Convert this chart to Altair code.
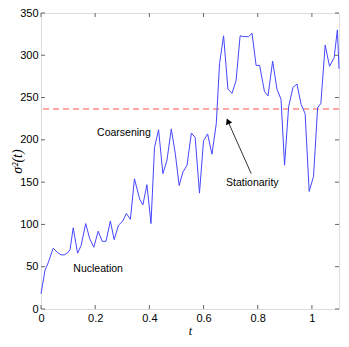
import altair as alt
import pandas as pd

t = [0, 0.015, 0.027, 0.045, 0.06, 0.074, 0.086, 0.097, 0.107, 0.119, 0.135, 0.148, 0.165, 0.18, 0.195,
     0.211, 0.226, 0.24, 0.256, 0.27, 0.286, 0.302, 0.315, 0.33, 0.345, 0.364, 0.376, 0.391, 0.406, 0.419,
     0.434, 0.45, 0.465, 0.481, 0.496, 0.51, 0.524, 0.539, 0.555, 0.569, 0.585, 0.6, 0.615, 0.631, 0.647,
     0.659, 0.674, 0.69, 0.705, 0.72, 0.735, 0.75, 0.766, 0.779, 0.794, 0.807, 0.825, 0.838, 0.855, 0.871,
     0.886, 0.899, 0.914, 0.93, 0.945, 0.96, 0.975, 0.99, 1.006, 1.021, 1.033, 1.049, 1.065, 1.082, 1.094, 1.1]
sigma2 = [18, 46, 55, 72, 67, 64, 64, 66, 70, 96, 66, 75, 101, 83, 73,
          92, 80, 80, 104, 82, 99, 104, 113, 106, 154, 130, 123, 147, 101, 191,
          212, 160, 176, 213, 183, 146, 162, 170, 208, 203, 137, 199, 207, 183, 219,
          290, 323, 260, 255, 270, 323, 322, 322, 326, 288, 288, 257, 252, 293, 260,
          248, 170, 239, 262, 266, 242, 231, 139, 157, 238, 243, 312, 287, 297, 330, 284]

stationary_level = 236.5
x_ticks = [0, 0.2, 0.4, 0.6, 0.8, 1.0]
y_ticks = [0, 50, 100, 150, 200, 250, 300, 350]

labels = ["Coarsening", "Stationarity", "Nucleation"]
label_t = [0.306, 0.78, 0.211]
label_v = [208.6, 149.3, 46.8]

arrow_tail = (0.776, 160.0)
arrow_head_center = (0.690, 222.0)

W, H = 298, 296
FONT = "Liberation Sans"

xs = alt.Scale(domain=[0, 1.1], nice=False, zero=False)
ys = alt.Scale(domain=[0, 350], nice=False)

df = pd.DataFrame({"t": t, "v": sigma2})

line = alt.Chart(df).mark_line(color="#4646ff", strokeWidth=1).encode(
    x=alt.X("t:Q", scale=xs,
            axis=alt.Axis(values=x_ticks, title="t", titleFontStyle="italic", titleFont="Liberation Serif",
                          titleFontWeight="normal", titleFontSize=12, titlePadding=2,
                          labelFont=FONT, labelFontSize=11, labelColor="#000", ticks=False,
                          labelPadding=3, grid=False, domain=False, format="~g", labelFlush=False)),
    y=alt.Y("v:Q", scale=ys,
            axis=alt.Axis(values=y_ticks, title="σ²(t)", titleFont="Liberation Serif",
                          titleFontStyle="italic", titleFontWeight="normal", titleFontSize=14,
                          titleX=-24, titleY=H / 2, titleAngle=270, titleAlign="center",
                          titleBaseline="middle",
                          labelFont=FONT, labelFontSize=11, labelColor="#000",
                          ticks=False, labelPadding=3, grid=False, domain=False)),
)

hline = alt.Chart(pd.DataFrame({"v": [stationary_level]})).mark_rule(
    color="#ff4d4d", strokeWidth=1, strokeDash=[6, 4]
).encode(y=alt.Y("v:Q", scale=ys))

xt = pd.DataFrame({"t": x_ticks})
yt = pd.DataFrame({"v": y_ticks})
tick_color = "#666"
xtick_b = alt.Chart(xt).mark_rule(color=tick_color).encode(
    x=alt.X("t:Q", scale=xs), y=alt.value(H), y2=alt.value(H - 4))
xtick_t = alt.Chart(xt).mark_rule(color=tick_color).encode(
    x=alt.X("t:Q", scale=xs), y=alt.value(0), y2=alt.value(4))
ytick_l = alt.Chart(yt).mark_rule(color=tick_color).encode(
    y=alt.Y("v:Q", scale=ys), x=alt.value(0), x2=alt.value(4))
ytick_r = alt.Chart(yt).mark_rule(color=tick_color).encode(
    y=alt.Y("v:Q", scale=ys), x=alt.value(W), x2=alt.value(W - 4))

texts = alt.Chart(pd.DataFrame({"t": label_t, "v": label_v, "lab": labels})).mark_text(
    font=FONT, fontSize=10.5, color="#000", align="center", baseline="middle"
).encode(x=alt.X("t:Q", scale=xs), y=alt.Y("v:Q", scale=ys), text="lab:N")

arrow_line = alt.Chart(pd.DataFrame({"t": [arrow_tail[0]], "v": [arrow_tail[1]],
                                     "t2": [arrow_head_center[0]], "v2": [arrow_head_center[1]]})).mark_rule(
    color="#333", strokeWidth=1
).encode(x=alt.X("t:Q", scale=xs), y=alt.Y("v:Q", scale=ys), x2="t2:Q", y2="v2:Q")

arrow_tip = alt.Chart(pd.DataFrame({"t": [arrow_head_center[0]], "v": [arrow_head_center[1]]})).mark_point(
    shape="triangle-up", filled=True, color="#000", size=45, angle=336, opacity=1
).encode(x=alt.X("t:Q", scale=xs), y=alt.Y("v:Q", scale=ys))

chart = alt.layer(hline, line, xtick_b, xtick_t, ytick_l, ytick_r, arrow_line, arrow_tip, texts).properties(
    width=W, height=H,
    autosize=alt.AutoSizeParams(type="none"),
    padding={"left": 33, "top": 5, "right": 2, "bottom": 30},
).configure_view(stroke="#666", strokeWidth=1).configure(background="white")

chart.save("out.html", embed_options={"renderer": "svg", "actions": False})
